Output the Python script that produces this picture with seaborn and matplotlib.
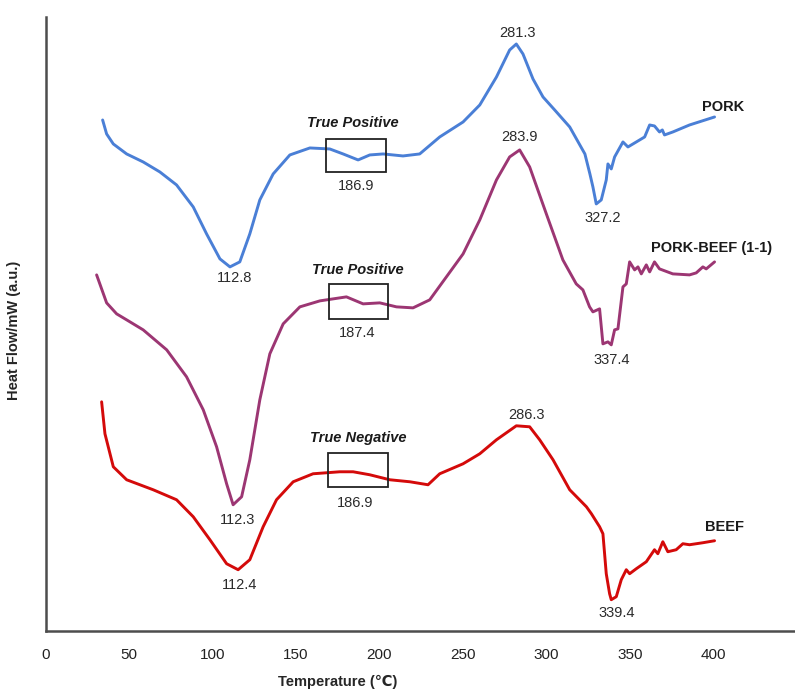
import numpy as np
import pandas as pd
import matplotlib
matplotlib.use("Agg")
import matplotlib.pyplot as plt
from matplotlib.patches import Rectangle
import seaborn as sns

# DSC curves (temperature in degC, heat flow in arbitrary units)
pork_t = [34.1, 36.5, 40.5, 48.5, 58.4, 68.4, 78.4, 88.4, 96.4, 104.4, 110.4, 116.3,
          122.3, 128.3, 136.3, 146.3, 158.3, 170.2, 178.2, 187.2, 194.2, 202.2, 214.1,
          224.1, 236.1, 250.1, 260.1, 270.1, 278.0, 282.0, 286.0, 292.0, 298.0, 305.0,
          314.0, 323.1, 326.1, 327.9, 329.9, 332.9, 335.9, 336.9, 338.9, 340.9, 345.9,
          348.9, 355.9, 358.9, 361.9, 364.8, 367.8, 369.5, 370.8, 375.8, 385.8, 400.8]
pork_hf = [51.1, 49.7, 48.7, 47.7, 46.9, 45.9, 44.6, 42.4, 39.7, 37.2, 36.4, 36.9,
           39.7, 43.1, 45.7, 47.6, 48.3, 48.2, 47.7, 47.1, 47.6, 47.7, 47.5,
           47.7, 49.4, 50.9, 52.6, 55.4, 58.1, 58.7, 57.7, 55.2, 53.4, 52.1,
           50.4, 47.7, 45.7, 44.4, 42.7, 43.1, 45.1, 46.7, 46.2, 47.4, 48.9,
           48.4, 49.1, 49.4, 50.6, 50.5, 49.9, 50.1, 49.6, 49.9, 50.6, 51.4]

mix_t = [30.5, 36.5, 42.5, 48.5, 58.4, 72.5, 84.4, 94.4, 102.4, 108.4, 112.3, 117.4,
         122.3, 128.3, 134.3, 142.3, 152.3, 164.3, 180.2, 190.2, 200.2, 210.2, 220.1,
         230.1, 240.1, 250.1, 260.1, 270.1, 278.0, 284.0, 290.0, 300.0, 309.9, 317.9,
         321.9, 325.9, 327.9, 331.9, 333.9, 336.9, 338.9, 340.9, 342.9, 345.9, 347.9,
         349.9, 352.9, 354.9, 356.9, 359.9, 361.9, 364.8, 367.8, 375.8, 385.8, 389.8,
         393.8, 395.8, 400.8]
mix_hf = [35.6, 32.8, 31.7, 31.1, 30.1, 28.1, 25.4, 22.1, 18.4, 14.7, 12.6, 13.4,
          17.1, 23.1, 27.7, 30.7, 32.4, 33.0, 33.4, 32.7, 32.8, 32.4, 32.3,
          33.1, 35.4, 37.7, 41.1, 45.1, 47.4, 48.1, 46.4, 41.7, 37.1, 34.7,
          34.1, 32.4, 31.9, 32.2, 28.7, 28.9, 28.6, 30.1, 30.2, 34.4, 34.7,
          36.9, 36.1, 36.4, 35.7, 36.6, 35.9, 36.9, 36.2, 35.7, 35.6, 35.8,
          36.4, 36.2, 36.9]

beef_t = [33.5, 35.5, 40.5, 48.5, 64.4, 78.4, 88.4, 98.4, 108.4, 115.3, 122.3, 130.3,
          138.3, 148.3, 160.2, 176.2, 184.2, 194.2, 206.2, 218.2, 229.1, 236.1, 250.1,
          260.1, 270.1, 282.0, 290.0, 296.0, 304.0, 314.0, 324.0, 327.0, 331.9, 333.9,
          335.9, 337.9, 338.9, 341.9, 344.9, 347.9, 349.9, 353.9, 359.9, 364.8, 366.8,
          369.8, 372.8, 377.8, 381.8, 385.8, 393.8, 400.8]
beef_hf = [22.9, 19.7, 16.4, 15.1, 14.1, 13.1, 11.4, 9.1, 6.7, 6.1, 7.1, 10.4,
           13.1, 14.9, 15.7, 15.9, 15.9, 15.6, 15.1, 14.9, 14.6, 15.7, 16.7,
           17.7, 19.1, 20.5, 20.4, 19.1, 17.1, 14.1, 12.4, 11.7, 10.4, 9.7,
           5.7, 3.7, 3.1, 3.4, 5.1, 6.1, 5.7, 6.2, 6.9, 8.1, 7.7,
           8.9, 7.9, 8.1, 8.7, 8.6, 8.8, 9.0]

sample_names = ["PORK", "PORK-BEEF (1-1)", "BEEF"]
peak_labels = ["112.8", "281.3", "327.2", "186.9",
               "112.3", "283.9", "337.4", "187.4",
               "112.4", "286.3", "339.4", "186.9"]
region_labels = ["True Positive", "True Positive", "True Negative"]

colors = ["#4a7fd6", "#9c3673", "#d40a0a"]

df = pd.concat([
    pd.DataFrame({"T": pork_t, "HF": pork_hf, "sample": sample_names[0]}),
    pd.DataFrame({"T": mix_t, "HF": mix_hf, "sample": sample_names[1]}),
    pd.DataFrame({"T": beef_t, "HF": beef_hf, "sample": sample_names[2]}),
])

sns.set_style("white")
plt.rcParams["font.family"] = ["Liberation Sans", "DejaVu Sans"]

fig = plt.figure(figsize=(7.95, 6.92), dpi=100)
ax = fig.add_axes([0.0575, 0.0886, 0.9425, 0.8868])

for name, col in zip(sample_names, colors):
    sub = df[df["sample"] == name]
    sns.lineplot(data=sub, x="T", y="HF", ax=ax, color=col, lw=2.1,
                 sort=False, estimator=None, legend=False,
                 solid_joinstyle="round", solid_capstyle="round")

ax.set_xlim(0, 449)
ax.set_ylim(0, 61.4)
ax.set_xticks(np.arange(0, 401, 50))
ax.set_yticks([])
for s in ["top", "right"]:
    ax.spines[s].set_visible(False)
for s in ["left", "bottom"]:
    ax.spines[s].set_color("#4d4d4d")
    ax.spines[s].set_linewidth(1.8)
ax.tick_params(axis="x", direction="inout", length=7, width=1.5, color="#4d4d4d",
               labelsize=11, labelcolor="#222222", pad=9)

ax.set_xlabel("Temperature (℃)", fontsize=10.5, fontweight="bold")
ax.set_ylabel("Heat Flow/mW (a.u.)", fontsize=10.5, fontweight="bold")
ax.xaxis.set_label_coords(0.39, -0.072)
ax.yaxis.set_label_coords(-0.033, 0.49)

# peak temperature labels (text positions)
label_pos = [(113.4, 35.3), (282.8, 59.8), (333.7, 41.3), (185.8, 44.5),
             (115.2, 11.1), (284.0, 49.4), (339.1, 27.1), (186.4, 29.8),
             (116.4, 4.6), (288.2, 21.6), (342.1, 1.8), (185.2, 12.8)]
for txt, (x, y) in zip(peak_labels, label_pos):
    ax.text(x, y, txt, ha="center", va="center", fontsize=10.5, color="#2b2b2b")

# boxed regions around the ~187 degC event
boxes = [(167.7, 45.9, 36.1, 3.3), (169.6, 31.2, 35.4, 3.5), (169.0, 14.4, 36.0, 3.4)]
for (x0, y0, w, h) in boxes:
    ax.add_patch(Rectangle((x0, y0), w, h, fill=False, ec="#222222", lw=1.3, zorder=4))

region_pos = [(184.0, 50.8), (187.0, 36.1), (187.0, 19.3)]
for txt, (x, y) in zip(region_labels, region_pos):
    ax.text(x, y, txt, ha="center", va="center", fontsize=10.5,
            fontweight="bold", fontstyle="italic", color="#1a1a1a")

name_pos = [(393.0, 52.4), (362.9, 38.3), (394.8, 10.4)]
for txt, (x, y) in zip(sample_names, name_pos):
    ax.text(x, y, txt, ha="left", va="center", fontsize=10.5,
            fontweight="bold", color="#1a1a1a")

fig.savefig("out.png", dpi=100)
